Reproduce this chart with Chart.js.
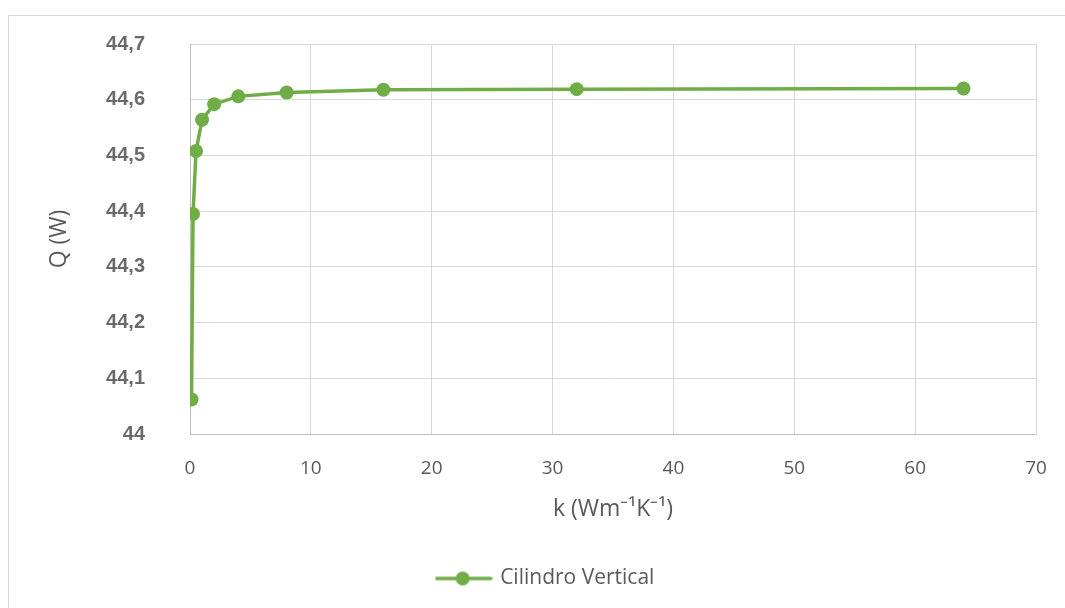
<!DOCTYPE html>
<html>
<head>
<meta charset="utf-8">
<script src="https://cdn.jsdelivr.net/npm/chart.js@4.4.1/dist/chart.umd.min.js"></script>
<style>
  html, body { margin: 0; padding: 0; background: #ffffff; overflow: hidden; }
  #wrap { position: relative; width: 1065px; height: 608px; }
  #frame { position: absolute; border: 1px solid #d9d9d9; box-sizing: border-box; }
  canvas { position: absolute; left: 0; top: 0; }
</style>
</head>
<body>
<div id="wrap">
  <div id="frame"></div>
  <canvas id="chart" width="1065" height="608"></canvas>
</div>
<script>
// Thermal conductivity k (W m^-1 K^-1) and heat flow Q (W) for the vertical cylinder
const kValues = [0.125, 0.25, 0.5, 1, 2, 4, 8, 16, 32, 64];
const qValues = [44.062, 44.395, 44.508, 44.564, 44.592, 44.606, 44.613, 44.618, 44.619, 44.620];
const seriesName = 'Cilindro Vertical';
const yTickLabels = ['44', '44,1', '44,2', '44,3', '44,4', '44,5', '44,6', '44,7'];
const xTickLabels = ['0', '10', '20', '30', '40', '50', '60', '70'];

const green = '#70ad47';
const textGray = '#595959';
const gridGray = '#d9d9d9';
const axisGray = '#bfbfbf';

// Outer chart frame (runs past the right and bottom edges of the page)
const frameBox = { left: 8, top: 15, width: 1076, height: 700 };
const frame = document.getElementById('frame');
frame.style.left = frameBox.left + 'px';
frame.style.top = frameBox.top + 'px';
frame.style.width = frameBox.width + 'px';
frame.style.height = frameBox.height + 'px';

// Legend symbol: short line with a round marker in the middle
function legendSymbol() {
  const c = document.createElement('canvas');
  c.width = 58; c.height = 16;
  const g = c.getContext('2d');
  g.strokeStyle = green; g.lineWidth = 3.5; g.lineCap = 'round';
  g.beginPath(); g.moveTo(2, 8); g.lineTo(56, 8); g.stroke();
  g.fillStyle = green;
  g.beginPath(); g.arc(28, 8, 7, 0, Math.PI * 2); g.fill();
  return c;
}
const symbol = legendSymbol();

// Centre the legend on the outer frame
const legendOnFrame = {
  id: 'legendOnFrame',
  afterLayout(chart) {
    const lg = chart.legend;
    if (!lg) return;
    const shift = (frameBox.left + frameBox.width / 2) - (lg.left + lg.right) / 2;
    lg.left += shift;
    lg.right += shift;
  }
};

const ctx = document.getElementById('chart');
new Chart(ctx, {
  type: 'line',
  data: {
    datasets: [{
      label: seriesName,
      data: kValues.map((k, i) => ({ x: k, y: qValues[i] })),
      borderColor: green,
      backgroundColor: green,
      borderWidth: 3.5,
      pointRadius: 7,
      pointHoverRadius: 7,
      pointBackgroundColor: green,
      pointBorderColor: green,
      pointBorderWidth: 0,
      tension: 0
    }]
  },
  plugins: [legendOnFrame],
  options: {
    responsive: false,
    animation: false,
    devicePixelRatio: 1,
    layout: { padding: { left: 8, right: 29, top: 44, bottom: 9 } },
    plugins: {
      tooltip: { enabled: false },
      legend: {
        position: 'bottom',
        labels: {
          usePointStyle: true,
          pointStyleWidth: 52,
          padding: 10,
          color: textGray,
          font: { family: 'Open Sans', size: 21 },
          generateLabels: (chart) => chart.data.datasets.map((ds, i) => ({
            text: ds.label,
            fontColor: textGray,
            pointStyle: symbol,
            datasetIndex: i,
            hidden: false,
            lineWidth: 0
          }))
        }
      }
    },
    scales: {
      x: {
        type: 'linear',
        min: 0, max: 70,
        afterFit: (s) => { s.height = 124; },
        afterBuildTicks: (s) => { s.ticks = xTickLabels.map(t => ({ value: Number(t) })); },
        ticks: {
          stepSize: 10,
          padding: 3,
          color: textGray,
          font: { family: 'Open Sans', size: 19 },
          callback: (v, i) => xTickLabels[i]
        },
        grid: { color: gridGray, lineWidth: 1, drawTicks: true, tickLength: 20, tickColor: 'rgba(0,0,0,0)' },
        border: { color: axisGray, width: 1 },
        title: {
          display: true,
          text: 'k (Wm⁻¹K⁻¹)',
          color: textGray,
          font: { family: 'Open Sans', size: 23 },
          padding: { top: 0, bottom: 35 }
        }
      },
      y: {
        min: 44, max: 44.7,
        afterFit: (s) => { s.width = 182; },
        afterBuildTicks: (s) => { s.ticks = yTickLabels.map(t => ({ value: Number(t.replace(',', '.')) })); },
        ticks: {
          stepSize: 0.1,
          padding: 2,
          color: '#6a6a6a',
          font: { family: 'Liberation Sans', size: 20, weight: 'bold' },
          callback: (v, i) => yTickLabels[i]
        },
        grid: { color: gridGray, lineWidth: 1, drawTicks: true, tickLength: 43, tickColor: 'rgba(0,0,0,0)' },
        border: { color: axisGray, width: 1 },
        title: {
          display: true,
          text: 'Q (W)',
          color: textGray,
          font: { family: 'Open Sans', size: 23 },
          padding: { top: 38, bottom: 0 }
        }
      }
    }
  }
});
</script>
</body>
</html>
